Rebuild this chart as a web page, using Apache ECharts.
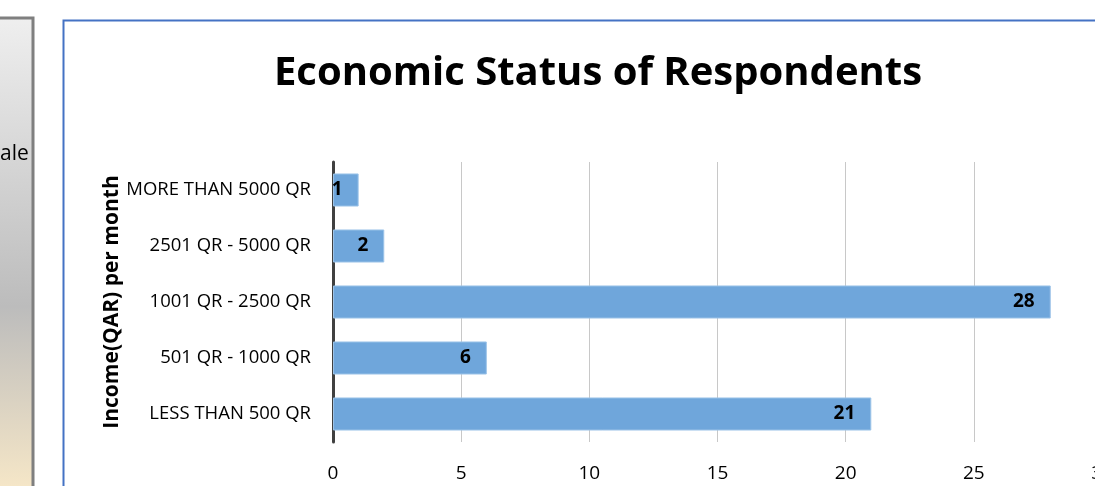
<!DOCTYPE html>
<html><head><meta charset="utf-8">
<script src="https://cdn.jsdelivr.net/npm/echarts@6/dist/echarts.min.js"></script>
<style>html,body{margin:0;padding:0;background:#fff}#c{width:1095px;height:486px}</style>
</head><body><div id="c"></div>
<script>
const categories = ['LESS THAN 500 QR','501 QR - 1000 QR','1001 QR - 2500 QR','2501 QR - 5000 QR','MORE THAN 5000 QR'];
const respondents = [21, 6, 28, 2, 1];
const xTicks = {min: 0, max: 30, interval: 5};
const titleText = 'Economic Status of Respondents';
const yAxisTitle = 'Income(QAR) per month';
const FONT = 'Open Sans';

const chart = echarts.init(document.getElementById('c'), null, {renderer: 'canvas'});
chart.setOption({
  animation: false,
  backgroundColor: '#fff',
  title: {
    text: titleText, left: 593, top: 49, textAlign: 'center',
    textStyle: {fontFamily: FONT, fontWeight: 'bold', fontSize: 40, color: '#000'}
  },
  graphic: [
    {type: 'rect', shape: {x: -5, y: 18, width: 38, height: 480}, z: 0,
     style: {fill: new echarts.graphic.LinearGradient(0,0,0,1,[
       {offset:0,color:'#efefef'},{offset:0.6,color:'#bcbcbc'},{offset:1,color:'#f9e9c8'}]),
       stroke: '#7f7f7f', lineWidth: 3}},
    {type: 'text', left: 0, top: 144, z: 1,
     style: {text: 'ale', font: '21px "Open Sans"', fill: '#000'}},
    {type: 'rect', shape: {x: 63.5, y: 20.5, width: 1100, height: 500}, z: 0,
     style: {fill: 'none', stroke: '#4472c4', lineWidth: 2}}
  ],
  grid: {left: 333, right: -7, top: 162, bottom: 44, outerBoundsMode: 'none', containLabel: false},
  xAxis: {
    type: 'value', min: xTicks.min, max: xTicks.max, interval: xTicks.interval,
    axisLine: {show: false}, axisTick: {show: false},
    splitLine: {show: true, lineStyle: {color: '#c8c8c8', width: 1}},
    axisLabel: {fontFamily: FONT, fontSize: 19, color: '#000', margin: 22}
  },
  yAxis: {
    type: 'category', data: categories,
    name: yAxisTitle, nameLocation: 'middle', nameRotate: 90, nameGap: 210,
    nameMoveOverlap: false,
    nameTextStyle: {fontFamily: FONT, fontWeight: 'bold', fontSize: 21, color: '#000'},
    axisLine: {show: true, lineStyle: {color: '#404040', width: 3}},
    axisTick: {show: false},
    axisLabel: {fontFamily: FONT, fontSize: 18.5, color: '#000', margin: 22}
  },
  series: [{
    type: 'bar', data: respondents, barCategoryGap: '41%',
    itemStyle: {color: '#6fa6db', borderColor: '#9cc3e8', borderWidth: 1},
    label: {show: true, position: 'insideRight', distance: 16,
      fontFamily: FONT, fontWeight: 'bold', fontSize: 19, color: '#000'}
  }]
});
</script></body></html>
